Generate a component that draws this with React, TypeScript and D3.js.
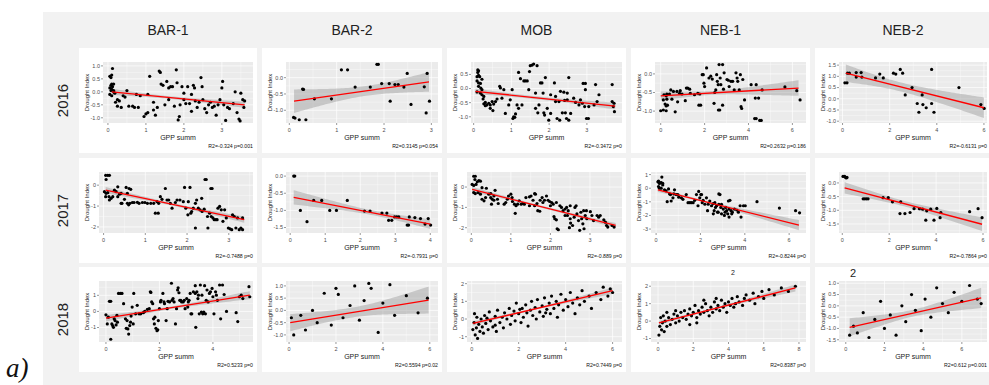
import * as d3 from "d3";

// sites (columns) and years (rows)
const sites = ["BAR-1", "BAR-2", "MOB", "NEB-1", "NEB-2"];
const years = ["2016", "2017", "2018"];

// points per panel, [GPP summ, Drought Index]
const bar1_2016: [number, number][] = [
  [0.05,0.6],[0.08,0.55],[0.1,0.65],[0.12,0.9],[0.1,0.3],[0.08,0.25],[0.12,0.2],[0.15,0.3],[0.05,0.15],[0.1,0.1],
  [0.15,0.05],[0.05,-0.1],[0.1,-0.15],[0.15,0.0],[0.08,0.05],[0.18,-0.05],[0.2,-0.4],[0.25,-0.55],[0.3,-0.35],[0.35,-0.6],
  [0.25,-0.3],[0.4,-0.15],[0.45,-0.2],[0.5,0.05],[0.55,-0.55],[0.65,-0.55],[0.7,-0.6],[0.8,-0.6],[0.75,-0.1],[0.85,-0.15],
  [0.95,-0.95],[1.0,-0.85],[1.05,-0.8],[1.05,-0.1],[1.1,0.6],[1.2,-0.7],[1.25,-0.9],[1.3,-0.6],[1.35,0.8],[1.38,0.75],
  [1.4,0.3],[1.45,0.25],[1.5,-0.5],[1.55,0.4],[1.6,-0.3],[1.65,0.2],[1.7,0.2],[1.75,-0.55],[1.8,0.85],[1.82,0.35],
  [1.85,-1.08],[1.88,-0.95],[1.9,-0.5],[1.95,0.2],[2.0,-0.3],[2.05,-0.45],[2.1,0.2],[2.15,-0.45],[2.2,-0.75],[2.25,0.25],
  [2.28,0.15],[2.3,-0.35],[2.35,-0.6],[2.4,-0.4],[2.45,0.55],[2.48,0.2],[2.5,-0.3],[2.55,-0.65],[2.6,-0.8],[2.65,-0.5],
  [2.7,-0.4],[2.8,-0.55],[2.85,-0.9],[2.9,-0.5],[2.95,-0.3],[3.0,0.15],[3.02,0.4],[3.05,-0.5],[3.1,-1.1],[3.15,-0.6],
  [3.2,-0.65],[3.3,-0.45],[3.35,0.0],[3.4,-0.8],[3.45,-1.05],[3.48,-1.12],[3.5,-0.05],[3.55,-0.3],[3.6,-0.35],[3.58,-0.6],
  [2.2,-0.1],[2.0,-0.05],[1.6,0.15],[2.75,-0.6],[1.2,-0.4],
];
const bar2_2016: [number, number][] = [
  [0.09,-1.22],[0.12,-1.24],[0.21,-1.29],[0.35,-1.29],[0.28,-0.35],[0.3,-0.36],[0.53,-0.65],[0.89,-0.65],[1.1,0.24],[1.23,0.24],
  [1.39,-0.29],[1.71,-0.29],[1.85,0.41],[1.88,0.41],[1.95,-0.18],[2.11,-0.18],[2.13,-0.72],[2.23,-0.21],[2.3,-0.21],[2.42,-0.29],
  [2.49,0.13],[2.57,-0.82],[2.85,-0.28],[2.91,0.13],[2.89,-1.08],[2.96,-0.72],
];
const mob_2016: [number, number][] = [
  [0.11,0.66],[0.13,0.63],[0.11,0.57],[0.13,0.47],[0.09,0.42],[0.16,0.42],[0.09,0.27],[0.13,0.2],[0.18,0.18],[0.22,0.33],
  [0.13,0.08],[0.19,0.02],[0.22,-0.04],[0.09,-0.12],[0.18,-0.16],[0.22,-0.22],[0.27,-0.28],[0.25,-0.37],[0.27,-0.54],[0.31,-0.49],
  [0.31,-0.61],[0.35,-0.58],[0.4,-0.52],[0.44,-0.58],[0.49,-0.46],[0.53,-0.55],[0.44,-0.7],[0.51,-0.78],[0.58,-0.46],[0.62,-0.37],
  [0.71,0.02],[0.69,0.08],[0.75,-0.34],[0.8,-0.04],[0.84,-0.88],[0.93,-0.58],[0.97,-0.4],[1.02,-0.04],[1.04,-1.06],[1.06,-1.0],
  [1.09,-1.02],[1.11,-0.9],[1.19,0.57],[1.24,0.35],[1.15,-0.58],[1.19,-0.7],[1.28,-0.58],[1.33,0.27],[1.37,0.27],[1.42,0.27],
  [1.46,-0.04],[1.48,0.6],[1.5,0.81],[1.55,0.83],[1.59,0.87],[1.68,0.81],[1.64,-0.16],[1.64,-0.7],[1.7,-0.86],[1.73,-0.58],
  [1.77,0.2],[1.81,0.2],[1.84,-0.16],[1.9,0.39],[1.86,-0.86],[1.88,-0.94],[1.95,-0.7],[1.99,-1.12],[2.04,-0.22],[2.04,-0.88],
  [2.14,0.2],[2.17,-0.28],[2.17,-0.46],[2.21,-1.06],[2.26,-0.46],[2.28,-1.12],[2.3,-0.1],[2.35,-0.86],[2.39,-0.13],[2.41,-0.42],
  [2.43,-0.86],[2.48,-0.16],[2.48,-0.4],[2.52,0.39],[2.46,-1.06],[2.52,-1.12],[2.57,-0.88],[2.65,-0.34],[2.7,-0.49],[2.79,-0.58],
  [2.83,-0.4],[2.88,-0.52],[2.9,0.18],[2.96,0.18],[2.96,-0.04],[2.94,-0.64],[2.99,-1.06],[3.04,-1.06],[3.05,-0.64],[3.19,-0.58],
  [3.23,0.14],[3.27,-0.46],[3.32,-0.22],[3.67,0.14],[3.67,-0.46],[3.72,-0.52],[3.7,-0.64],[3.73,-0.82],
];
const neb1_2016: [number, number][] = [
  [0,-0.99],[0.12,-0.97],[0.25,-0.59],[0.28,-0.54],[0.15,-0.56],[0.2,-0.81],[0.25,-0.86],[0.31,-0.84],[0.12,-0.7],[0.28,-0.68],
  [0.25,-0.99],[0.51,-0.68],[0.4,-0.54],[0.46,-0.43],[0.58,-0.47],[0.66,-1.02],[0.74,-0.47],[0.77,-0.75],[0.86,-0.52],[0.89,-0.45],
  [0.97,-0.54],[1.12,-0.72],[1.17,-0.38],[1.23,-0.38],[1.32,-0.41],[1.35,-0.52],[1.54,-0.56],[1.69,-0.52],[1.74,-0.84],[1.78,-0.54],
  [1.82,-0.84],[1.89,-0.02],[1.94,-0.02],[1.97,-0.25],[2.0,-0.34],[2.09,0.16],[2.2,-0.11],[2.28,-0.06],[2.35,-0.14],[2.43,-0.79],
  [2.46,-0.5],[2.51,-0.43],[2.55,-0.02],[2.58,-0.2],[2.62,-0.29],[2.63,-0.97],[2.69,-0.97],[2.66,0.25],[2.71,-0.11],[2.74,-0.29],
  [2.82,0.25],[2.82,-0.84],[2.86,-0.41],[2.89,0.03],[3.02,-0.15],[3.08,-0.17],[3.12,-0.34],[3.2,-0.2],[3.28,-0.2],[3.35,-0.43],
  [3.43,0.03],[3.48,-0.11],[3.51,-0.2],[3.58,-0.43],[3.63,-0.02],[3.74,-0.15],[3.66,-0.88],[3.69,-0.93],[3.82,-0.7],[4.12,-0.29],
  [4.31,-0.65],[4.35,-0.29],[4.28,-1.2],[4.35,-1.2],[4.46,-0.65],[4.51,-1.25],[4.58,-1.25],[4.62,-0.43],[5.66,-0.35],[6.2,-0.45],
  [6.35,-0.7],
];
const neb2_2016: [number, number][] = [
  [0.1,0.71],[0.19,0.71],[0.21,1.14],[0.29,1.14],[0.58,1.17],[0.58,0.97],[0.79,1.17],[0.82,0.97],[1.4,0.93],[1.58,1.1],
  [1.73,0.93],[2.16,1.14],[2.26,1.1],[2.45,1.31],[2.55,1.14],[2.66,0.17],[2.95,0.5],[3.17,-0.21],[3.24,-0.6],[3.38,0.17],
  [3.41,-0.26],[3.55,-0.4],[3.78,1.31],[3.78,-0.21],[3.88,-0.6],[4.94,0.5],[5.87,-0.26],[6.01,-0.43],
];
const bar1_2017: [number, number][] = [
  [0.05,0.47],[0.1,0.47],[0.14,0.47],[0.06,0.27],[0.02,-0.31],[0.06,-0.39],[0.1,-0.36],[0.13,-0.55],[0.14,-0.71],[0.18,-0.63],
  [0.05,-0.55],[0.22,-0.55],[0.26,-0.24],[0.3,-0.31],[0.34,-0.55],[0.38,-0.43],[0.42,-0.39],[0.44,-0.87],[0.34,-0.08],[0.42,-0.87],
  [0.5,-0.68],[0.54,-0.11],[0.57,-0.39],[0.61,-0.16],[0.65,-0.2],[0.57,-0.87],[0.6,-0.94],[0.63,-0.87],[0.69,-0.83],[0.73,-0.83],
  [0.81,-0.82],[0.85,-0.87],[0.93,-0.83],[0.99,-0.83],[1.05,-0.87],[1.13,-0.87],[1.2,-0.87],[1.24,-1.34],[1.31,-1.34],[1.28,-0.79],
  [1.36,-0.55],[1.32,-0.87],[1.4,-0.68],[1.48,-0.16],[1.52,-0.71],[1.56,-0.71],[1.6,-0.87],[1.64,-1.1],[1.72,-0.83],[1.76,-0.71],
  [1.83,-0.71],[1.91,-0.79],[1.94,-0.11],[1.97,-1.1],[2.02,-1.42],[2.03,-0.79],[2.07,-0.11],[2.09,-1.34],[2.11,-1.26],[2.15,-1.1],
  [2.2,-0.87],[2.2,-2.05],[2.23,-0.71],[2.27,-1.1],[2.31,-1.18],[2.35,-0.63],[2.36,-1.26],[2.41,-1.15],[2.43,0.27],[2.46,0.27],
  [2.49,-1.5],[2.5,-2.05],[2.54,-1.34],[2.57,-0.16],[2.58,-1.5],[2.6,-0.16],[2.62,-1.57],[2.65,-1.65],[2.69,-1.65],[2.72,-1.65],
  [2.74,-1.1],[2.78,-1.02],[2.82,-1.18],[2.86,-1.73],[2.9,-1.18],[2.94,-1.57],[2.99,-2.05],[3.03,-2.09],[3.07,-2.13],[3.09,-1.42],
  [3.13,-1.5],[3.17,-2.05],[3.21,-1.57],[3.25,-2.13],[3.29,-2.05],[3.33,-2.13],[3.33,-1.57],
];
const bar2_2017: [number, number][] = [
  [0.1,0],[0.13,0],[0.29,-1.0],[0.48,-1.33],[0.67,-0.71],[0.9,-0.71],[1.13,-1.0],[1.32,-1.0],[1.63,-0.71],[2.12,-1.02],
  [2.28,-1.02],[2.62,-1.08],[2.76,-1.08],[2.81,-1.29],[2.9,-1.29],[2.98,-1.19],[3.04,-1.19],[3.1,-1.19],[3.34,-1.43],[3.38,-1.43],
  [3.4,-1.19],[3.56,-1.21],[3.72,-1.24],[3.85,-1.4],[3.94,-1.24],[4.01,-1.43],
];
const mob_2017: [number, number][] = [
  [0.06,0.53],[0.1,0.53],[0.09,0.37],[0.15,0.26],[0.12,0.13],[0.06,0.08],[0.02,0.13],[0.19,0.32],[0.23,0.29],[0.06,-0.27],
  [0.1,-0.32],[0.17,-0.27],[0.27,-0.03],[0.23,-0.35],[0.27,-0.6],[0.32,-0.68],[0.36,-0.52],[0.38,-0.06],[0.44,-0.35],[0.49,-0.52],
  [0.53,-0.6],[0.51,-0.84],[0.49,-0.32],[0.57,-0.44],[0.6,-0.16],[0.57,-0.65],[0.66,-0.6],[0.68,-0.81],[0.83,-0.84],[0.87,-0.76],
  [0.91,-0.6],[0.94,-0.44],[1.0,-0.35],[1.03,-0.52],[1.04,-0.71],[1.09,-0.84],[1.11,-1.29],[1.13,-0.92],[1.17,-0.84],[1.21,-0.68],
  [1.26,-0.84],[1.3,-0.81],[1.34,-0.84],[1.38,-0.52],[1.47,-0.48],[1.47,-0.92],[1.51,-0.44],[1.56,-0.65],[1.6,-0.32],[1.62,-0.35],
  [1.6,-0.92],[1.66,-0.81],[1.68,-1.16],[1.73,-1.19],[1.74,-0.65],[1.79,-0.52],[1.81,-0.76],[1.85,-0.65],[1.9,-0.44],[1.94,-0.65],
  [1.98,-0.71],[2.0,-0.92],[2.03,-0.76],[2.07,-0.84],[2.09,-1.45],[2.11,-1.56],[2.15,-1.61],[2.17,-2.05],[2.2,-2.1],[2.15,-0.76],
  [2.24,-0.92],[2.28,-1.0],[2.32,-1.16],[2.37,-1.08],[2.37,-1.4],[2.41,-1.0],[2.43,-1.4],[2.45,-1.16],[2.48,-2.0],[2.5,-1.56],
  [2.5,-0.92],[2.51,-1.77],[2.56,-1.89],[2.6,-1.48],[2.62,-1.0],[2.65,-0.92],[2.67,-1.32],[2.71,-1.65],[2.74,-2.13],[2.77,-1.24],
  [2.79,-1.56],[2.82,-1.81],[2.84,-1.16],[2.85,-2.05],[2.88,-1.4],[2.91,-1.16],[2.92,-1.56],[3.01,-1.21],[3.05,-1.4],[3.09,-1.65],
  [3.18,-1.4],[3.22,-1.48],[3.26,-1.4],[3.35,-1.61],[3.39,-1.73],[3.42,-1.89],[3.45,-1.97],[3.56,-1.89],[3.61,-1.97],
];
const neb1_2017: [number, number][] = [
  [0.08,0.47],[0.11,0.52],[0.15,0.35],[0.2,0.4],[0.26,0.82],[0.23,0.42],[0.3,0.35],[0.11,0.12],[0.15,0],[0.23,0],
  [0.3,0.24],[0.38,-0.12],[0.45,-0.19],[0.5,-0.99],[0.56,-0.05],[0.61,-0.42],[0.65,-0.47],[0.68,-0.94],[0.76,-0.71],[0.8,-0.42],
  [0.83,-0.12],[0.91,-0.47],[0.98,-0.47],[1.02,-0.66],[1.14,-0.71],[1.21,-0.82],[1.36,-0.47],[1.44,-1.06],[1.52,-1.06],[1.59,-1.06],
  [1.67,-1.06],[1.74,-0.89],[1.82,-0.47],[1.89,-1.29],[1.92,-0.24],[1.97,-0.71],[2.02,-0.47],[2.05,-0.47],[2.08,-1.06],[2.12,-0.89],
  [2.2,-1.18],[2.27,-0.71],[2.32,-1.65],[2.35,-1.18],[2.42,-0.94],[2.5,-1.29],[2.58,-1.13],[2.58,-1.88],[2.62,-1.65],[2.65,-1.06],
  [2.68,-1.41],[2.73,-1.29],[2.77,-1.76],[2.8,-1.76],[2.83,-1.18],[2.83,-0.42],[2.88,-0.47],[2.92,-1.41],[2.95,-1.18],[2.95,-1.88],
  [3.03,-1.53],[3.08,-2.0],[3.11,-1.76],[3.14,-1.41],[3.18,-1.65],[3.23,-1.88],[3.26,-0.94],[3.29,-1.53],[3.29,-2.12],[3.33,-0.89],
  [3.38,-1.65],[3.41,-1.88],[3.44,-1.76],[3.53,-1.53],[3.64,-1.6],[3.71,-1.76],[3.79,-1.29],[3.83,-2.12],[3.94,-1.29],[4.02,-1.29],
  [4.55,-0.99],[5.56,-1.46],[6.29,-1.65],[6.47,-1.81],
];
const neb2_2017: [number, number][] = [
  [0.03,0.24],[0.1,0.24],[0.14,0.2],[0.17,0.18],[0.2,0.2],[0.89,-0.58],[0.96,-0.58],[1.03,-0.58],[1.1,-0.58],[1.74,-0.54],
  [1.96,-0.54],[2.14,-0.69],[2.49,-0.69],[2.46,-1.12],[2.67,-1.12],[2.89,-1.08],[3.06,-0.94],[3.29,-0.94],[3.43,-0.96],[3.56,-1.36],
  [3.6,-1.02],[3.77,-0.96],[3.91,-1.36],[4.03,-0.93],[4.17,-1.27],[4.2,-1.08],[5.43,-1.05],[5.79,-0.94],[5.96,-1.27],
];
const bar1_2018: [number, number][] = [
  [0,-0.21],[0.05,-0.78],[0.09,-0.36],[0.13,0.63],[0.18,0.63],[0.18,-1.73],[0.22,-0.78],[0.25,-0.88],[0.28,-0.99],[0.31,-0.46],
  [0.34,-0.57],[0.38,-0.84],[0.41,-0.25],[0.43,-0.67],[0.47,1.12],[0.54,1.12],[0.6,1.12],[0.66,0.48],[0.73,-0.46],[0.76,-1.05],
  [0.79,-0.57],[0.82,-1.09],[0.85,-1.41],[0.89,-0.88],[0.92,-0.67],[0.94,-0.29],[0.98,0.27],[1.02,-0.78],[1.04,1.12],[1.11,-0.15],
  [1.17,0.38],[1.24,-0.15],[1.3,-0.15],[1.4,-0.08],[1.45,0],[1.55,0.13],[1.62,0.17],[1.66,1.22],[1.68,1.18],[1.71,0.59],
  [1.75,0.48],[1.78,-0.46],[1.81,-0.78],[1.83,-0.36],[1.87,-1.05],[1.91,-1.2],[1.94,-1.14],[1.96,-0.57],[2.0,0.17],[2.04,0.59],
  [2.06,0.69],[2.13,1.12],[2.17,0.59],[2.19,0.48],[2.25,-0.57],[2.29,0.17],[2.32,0.63],[2.38,0.59],[2.45,1.75],[2.47,0.69],
  [2.51,0.8],[2.55,0.59],[2.6,-0.78],[2.64,0.17],[2.68,1.33],[2.7,1.47],[2.73,1.16],[2.76,0.69],[2.8,0.69],[2.83,0.59],
  [2.89,0.59],[2.93,0.69],[2.96,0.17],[3.02,0.8],[3.06,0.27],[3.08,0.59],[3.11,0.69],[3.15,1.12],[3.18,-0.15],[3.21,-0.15],
  [3.27,1.22],[3.34,1.6],[3.34,1.12],[3.36,-0.99],[3.4,1.22],[3.44,0.8],[3.46,1.01],[3.49,-0.15],[3.53,1.64],[3.57,-0.04],
  [3.59,1.01],[3.62,-0.15],[3.66,-0.04],[3.69,1.6],[3.72,-0.15],[3.75,0.69],[3.78,1.33],[3.82,0.59],[3.87,1.12],[3.91,1.22],
  [3.97,1.43],[4.0,0.91],[4.04,-0.15],[4.1,1.22],[4.13,1.01],[4.17,0.69],[4.25,1.64],[4.29,-0.46],[4.36,1.64],[4.42,1.05],
  [4.51,0],[4.87,-0.08],[4.93,-0.63],[4.99,0.91],[5.06,1.01],[5.12,0.8],[5.35,1.54],[5.38,0.91],
];
const bar2_2018: [number, number][] = [
  [0.2,-1.0],[0.5,-0.2],[0.7,-0.8],[1.0,0.0],[1.2,-0.5],[1.5,0.7],[1.8,-0.6],[2.0,0.9],[2.3,-0.3],[2.6,0.2],
  [2.8,1.0],[3.0,-0.4],[3.2,0.4],[3.4,1.1],[3.5,0.9],[3.8,-0.9],[4.0,0.3],[4.3,1.05],[4.5,-0.2],[5.0,0.6],
  [5.5,-0.1],[5.9,0.5],[0.1,-0.3],[2.1,0.65],
];
const mob_2018: [number, number][] = [
  [0.05,-0.6],[0.1,-0.2],[0.12,0.3],[0.15,-0.9],[0.2,-0.5],[0.22,0.1],[0.25,-1.1],[0.3,-0.3],[0.35,-0.7],[0.4,0.0],
  [0.45,-0.45],[0.5,-0.8],[0.55,0.2],[0.6,-0.25],[0.7,-0.6],[0.75,0.4],[0.8,-0.1],[0.9,-0.45],[1.0,0.15],[1.05,-0.7],
  [1.1,0.5],[1.2,-0.2],[1.3,0.1],[1.35,-0.5],[1.4,0.35],[1.5,0.0],[1.6,0.6],[1.65,-0.3],[1.7,0.2],[1.8,0.45],
  [1.85,-0.1],[1.9,0.9],[2.0,0.3],[2.1,-0.2],[2.15,0.6],[2.2,0.1],[2.3,0.8],[2.35,0.35],[2.4,-0.4],[2.5,0.5],
  [2.55,1.0],[2.6,0.2],[2.7,0.65],[2.75,0.0],[2.8,1.1],[2.9,0.4],[3.0,0.75],[3.05,0.15],[3.1,1.2],[3.2,0.55],
  [3.3,0.9],[3.35,0.3],[3.4,1.3],[3.5,0.6],[3.6,1.0],[3.65,0.1],[3.7,0.8],[3.8,1.4],[3.9,0.5],[4.0,1.1],
  [4.1,0.7],[4.2,1.5],[4.3,0.9],[4.4,0.3],[4.5,1.2],[4.6,0.8],[4.7,1.6],[4.8,1.0],[5.0,1.3],[5.1,0.6],
  [5.3,1.5],[5.5,1.1],[5.6,1.8],[5.8,1.3],[5.9,1.7],[6.0,1.5],[1.0,-0.35],[0.65,0.05],[2.05,0.55],[3.15,0.35],
];
const neb1_2018: [number, number][] = [
  [0.05,-0.8],[0.1,-0.3],[0.15,0.2],[0.2,-0.5],[0.25,-0.1],[0.3,0.3],[0.35,-0.6],[0.4,0.0],[0.5,-0.3],[0.6,0.2],
  [0.7,-0.2],[0.8,0.1],[0.9,0.4],[1.0,-0.1],[1.1,0.3],[1.2,0.0],[1.3,0.5],[1.4,0.2],[1.5,0.6],[1.6,0.1],
  [1.7,0.4],[1.8,0.7],[1.9,0.3],[2.0,0.5],[2.1,0.9],[2.2,0.2],[2.3,0.6],[2.4,0.4],[2.5,0.8],[2.6,0.5],
  [2.7,1.0],[2.8,0.6],[2.9,0.3],[3.0,0.8],[3.1,0.5],[3.2,1.1],[3.3,0.7],[3.4,0.9],[3.5,0.6],[3.6,1.2],
  [3.7,0.8],[3.8,1.0],[3.9,0.5],[4.0,1.1],[4.1,0.9],[4.2,1.3],[4.3,0.8],[4.4,1.0],[4.5,1.4],[4.6,1.1],
  [4.8,0.9],[4.9,1.3],[5.0,1.5],[5.2,1.2],[5.4,1.6],[5.5,1.0],[5.7,1.4],[5.9,1.7],[6.0,1.3],[6.3,1.8],
  [6.6,1.5],[7.0,1.9],[7.4,1.7],[7.8,2.0],[1.0,0.6],[2.2,-0.1],[3.3,1.3],[0.5,0.5],[1.8,-0.2],[2.6,1.2],
];
const neb2_2018: [number, number][] = [
  [0.2,-1.3],[0.4,-0.9],[0.6,-1.2],[0.9,-0.3],[1.2,-1.4],[1.5,-0.6],[1.8,0.2],[2.0,-1.0],[2.3,-0.4],[2.6,-1.3],
  [2.9,0.0],[3.1,-0.7],[3.4,0.5],[3.6,-0.2],[3.9,-1.1],[4.1,0.3],[4.4,-0.5],[4.7,0.8],[5.0,0.1],[5.3,-0.3],
  [5.6,0.6],[6.0,0.2],[6.4,0.9],[6.8,0.3],[7.0,0.1],
];

// panels in row order: 2016 x 5 sites, 2017 x 5, 2018 x 5
const points = [
  bar1_2016, bar2_2016, mob_2016, neb1_2016, neb2_2016,
  bar1_2017, bar2_2017, mob_2017, neb1_2017, neb2_2017,
  bar1_2018, bar2_2018, mob_2018, neb1_2018, neb2_2018,
];
const xDomains: [number, number][] = [
  [-0.13, 3.82], [-0.07, 3.14], [-0.07, 3.93], [-0.26, 6.62], [-0.15, 6.13],
  [-0.11, 3.58], [-0.12, 4.22], [-0.11, 3.81], [-0.23, 6.76], [-0.14, 6.17],
  [-0.26, 5.5], [-0.13, 6.35], [-0.2, 6.4], [-0.4, 8.4], [-0.35, 7.3],
];
const yDomains: [number, number][] = [
  [-1.2, 1.15], [-1.39, 0.48], [-1.22, 0.94], [-1.32, 0.32], [-1.08, 1.64],
  [-2.29, 0.63], [-1.66, 0.12], [-2.26, 0.74], [-3.29, 1.19], [-1.83, 0.4],
  [-1.9, 1.89], [-1.29, 1.2], [-1.3, 2.15], [-1.2, 2.3], [-1.6, 1.1],
];
const xTicks: number[][] = [
  [0, 1, 2, 3], [0, 1, 2, 3], [0, 1, 2, 3], [0, 2, 4, 6], [0, 2, 4, 6],
  [0, 1, 2, 3], [0, 1, 2, 3, 4], [0, 1, 2, 3], [0, 2, 4, 6], [0, 2, 4, 6],
  [0, 2, 4], [0, 2, 4, 6], [0, 2, 4, 6], [0, 2, 4, 6, 8], [0, 2, 4, 6],
];
const yTicks: number[][] = [
  [-1, -0.5, 0, 0.5, 1], [-1, -0.5, 0], [-1, -0.5, 0, 0.5], [-1, -0.5, 0], [-1, -0.5, 0, 0.5, 1, 1.5],
  [-2, -1, 0], [-1.5, -1, -0.5, 0], [-2, -1, 0], [-3, -2, -1, 0, 1], [-1.5, -1, -0.5, 0],
  [-1, 0, 1], [-1, -0.5, 0, 0.5, 1], [-1, 0, 1, 2], [-1, 0, 1, 2], [-1.5, -1, -0.5, 0, 0.5, 1],
];
// fitted line: [x start, y start, x end, y end]
const fits: number[][] = [
  [0.1, 0.0, 3.6, -0.5], [0.1, -0.72, 2.95, -0.13], [0.05, -0.1, 3.75, -0.62], [0.0, -0.59, 6.28, -0.38], [0.14, 1.14, 6.0, -0.4],
  [0.05, -0.24, 3.37, -1.65], [0.1, -0.62, 4.0, -1.4], [0.02, -0.11, 3.65, -1.89], [0.08, -0.12, 6.44, -2.71], [0.1, -0.18, 5.96, -1.51],
  [0.0, -0.42, 5.38, 1.01], [0.05, -0.5, 5.95, 0.42], [0.05, -0.25, 6.0, 1.6], [0.05, -0.1, 7.8, 1.9], [0.2, -0.95, 7.0, 0.35],
];
// confidence band half-width: [left end, narrowest, right end]
const bands: number[][] = [
  [0.12, 0.05, 0.12], [0.36, 0.15, 0.3], [0.1, 0.05, 0.12], [0.12, 0.05, 0.21], [0.39, 0.2, 0.46],
  [0.15, 0.06, 0.15], [0.21, 0.07, 0.14], [0.12, 0.05, 0.12], [0.15, 0.07, 0.37], [0.21, 0.1, 0.25],
  [0.2, 0.08, 0.25], [0.35, 0.2, 0.55], [0.12, 0.05, 0.18], [0.12, 0.05, 0.2], [0.4, 0.15, 0.45],
];
const stats = [
  "R2=-0.324 p=0.001", "R2=0.3145 p=0.054", "R2=-0.3472 p=0", "R2=0.2632 p=0.186", "R2=-0.6131 p=0",
  "R2=-0.7488 p=0", "R2=-0.7931 p=0", "R2=-0.889 p=0", "R2=-0.8244 p=0", "R2=-0.7864 p=0",
  "R2=0.5233 p=0", "R2=0.5594 p=0.02", "R2=0.7449 p=0", "R2=0.8387 p=0", "R2=0.612 p=0.001",
];

const W = 989;
const H = 385;
const colX = [79, 262, 447, 631, 815];
const colW = [178, 180, 179, 179, 176];
const rowY = [48, 158, 267];
const panelH = 105;
const font = "'Liberation Sans', Arial, sans-serif";

const fmtTick = (ticks: number[]) => {
  const dec = ticks.some((t) => !Number.isInteger(t));
  return (t: number) => (dec ? t.toFixed(1) : String(t));
};

function Panel({ i }: { i: number }) {
  const r = Math.floor(i / 5);
  const c = i % 5;
  const px = colX[c];
  const py = rowY[r];
  const pw = colW[c];
  const yt = yTicks[i];
  const fmt = fmtTick(yt);
  const maxLen = d3.max(yt, (t) => fmt(t).length) || 2;
  const left = px + 16 + maxLen * 2;
  const right = px + pw - 4;
  const top = py + 14;
  const bottom = py + 75;

  const x = d3.scaleLinear().domain(xDomains[i]).range([left, right]);
  const y = d3.scaleLinear().domain(yDomains[i]).range([bottom, top]);

  // minor gridlines halfway between the majors
  const xStep = xTicks[i][1] - xTicks[i][0];
  const yStep = yt[1] - yt[0];
  const xMinor = d3.range(xTicks[i][0] - xStep / 2, xDomains[i][1], xStep).filter((v) => v > xDomains[i][0]);
  const yMinor = d3.range(yt[0] - yStep / 2, yDomains[i][1], yStep).filter((v) => v > yDomains[i][0]);

  const pts = points[i];
  const [x0, y0, x1, y1] = fits[i];
  const [hl, hm, hr] = bands[i];
  const xc = d3.mean(pts, (d) => d[0]) ?? (x0 + x1) / 2;
  const fy = (v: number) => y0 + ((y1 - y0) * (v - x0)) / (x1 - x0);
  const hw = (v: number) => {
    const e = v < xc ? hl : hr;
    const xe = v < xc ? x0 : x1;
    const t = xe === xc ? 0 : (v - xc) / (xe - xc);
    return Math.sqrt(hm * hm + (e * e - hm * hm) * t * t);
  };
  const xs = d3.range(61).map((k) => x0 + ((x1 - x0) * k) / 60);
  const band = d3
    .area<number>()
    .x((v) => x(v))
    .y0((v) => y(fy(v) - hw(v)))
    .y1((v) => y(fy(v) + hw(v)))(xs);

  const clipId = `clip${i}`;
  return (
    <g>
      <rect x={px} y={py} width={pw} height={panelH} fill="#fff" />
      <defs>
        <clipPath id={clipId}>
          <rect x={left} y={top} width={right - left} height={bottom - top} />
        </clipPath>
      </defs>
      <rect x={left} y={top} width={right - left} height={bottom - top} fill="#ebebeb" />
      {xMinor.map((v) => (
        <line key={"xm" + v} x1={x(v)} x2={x(v)} y1={top} y2={bottom} stroke="#fff" strokeWidth={0.35} />
      ))}
      {yMinor.map((v) => (
        <line key={"ym" + v} x1={left} x2={right} y1={y(v)} y2={y(v)} stroke="#fff" strokeWidth={0.35} />
      ))}
      {xTicks[i].map((v) => (
        <line key={"xg" + v} x1={x(v)} x2={x(v)} y1={top} y2={bottom} stroke="#fff" strokeWidth={0.7} />
      ))}
      {yt.map((v) => (
        <line key={"yg" + v} x1={left} x2={right} y1={y(v)} y2={y(v)} stroke="#fff" strokeWidth={0.7} />
      ))}
      <g clipPath={`url(#${clipId})`}>
        <path d={band || ""} fill="#999" fillOpacity={0.45} />
        {pts.map((d, k) => (
          <circle key={k} cx={x(d[0])} cy={y(d[1])} r={1.6} fill="#000" />
        ))}
        <line x1={x(x0)} y1={y(y0)} x2={x(x1)} y2={y(y1)} stroke="#ff0000" strokeWidth={1.3} />
      </g>
      {yt.map((v) => (
        <g key={"yt" + v}>
          <line x1={left - 2} x2={left} y1={y(v)} y2={y(v)} stroke="#333" strokeWidth={0.5} />
          <text x={left - 3} y={y(v)} dy="0.35em" textAnchor="end" fontSize={5.5} fill="#4d4d4d" fontFamily={font}>
            {fmt(v)}
          </text>
        </g>
      ))}
      {xTicks[i].map((v) => (
        <g key={"xt" + v}>
          <line x1={x(v)} x2={x(v)} y1={bottom} y2={bottom + 2} stroke="#333" strokeWidth={0.5} />
          <text x={x(v)} y={bottom + 7} dy="0.35em" textAnchor="middle" fontSize={5.5} fill="#4d4d4d" fontFamily={font}>
            {v}
          </text>
        </g>
      ))}
      <text
        transform={`translate(${px + 8},${(top + bottom) / 2}) rotate(-90)`}
        textAnchor="middle"
        dy="0.35em"
        fontSize={6}
        fill="#222"
        fontFamily={font}
      >
        Drought Index
      </text>
      <text x={(left + right) / 2} y={bottom + 15} dy="0.35em" textAnchor="middle" fontSize={7} fill="#222" fontFamily={font}>
        GPP summ
      </text>
      <text x={px + pw - 4} y={bottom + 23} dy="0.35em" textAnchor="end" fontSize={5.2} fill="#111" fontFamily={font}>
        {stats[i]}
      </text>
    </g>
  );
}

export default function App() {
  return (
    <svg
      width={W}
      height={H}
      style={{ position: "absolute", left: 0, top: 0, background: "#fff" }}
    >
      <rect x={43} y={12} width={W - 43} height={H - 12} fill="#f2f2f2" />
      {sites.map((s, c) => (
        <text key={s} x={colX[c] + colW[c] / 2} y={30} dy="0.35em" textAnchor="middle" fontSize={14} fill="#222" fontFamily={font}>
          {s}
        </text>
      ))}
      {years.map((yr, r) => (
        <text
          key={yr}
          transform={`translate(63,${rowY[r] + panelH / 2}) rotate(-90)`}
          textAnchor="middle"
          dy="0.35em"
          fontSize={15}
          fill="#222"
          fontFamily={font}
        >
          {yr}
        </text>
      ))}
      {d3.range(15).map((i) => (
        <Panel key={i} i={i} />
      ))}
      <text x={733} y={273} dy="0.35em" textAnchor="middle" fontSize={7} fill="#222" fontFamily={font}>2</text>
      <text x={853} y={273} dy="0.35em" textAnchor="middle" fontSize={11} fill="#222" fontFamily={font}>2</text>
      <text x={6} y={377} fontSize={27} fontStyle="italic" fill="#111" fontFamily="'Liberation Serif', 'Times New Roman', serif">
        a)
      </text>
    </svg>
  );
}
